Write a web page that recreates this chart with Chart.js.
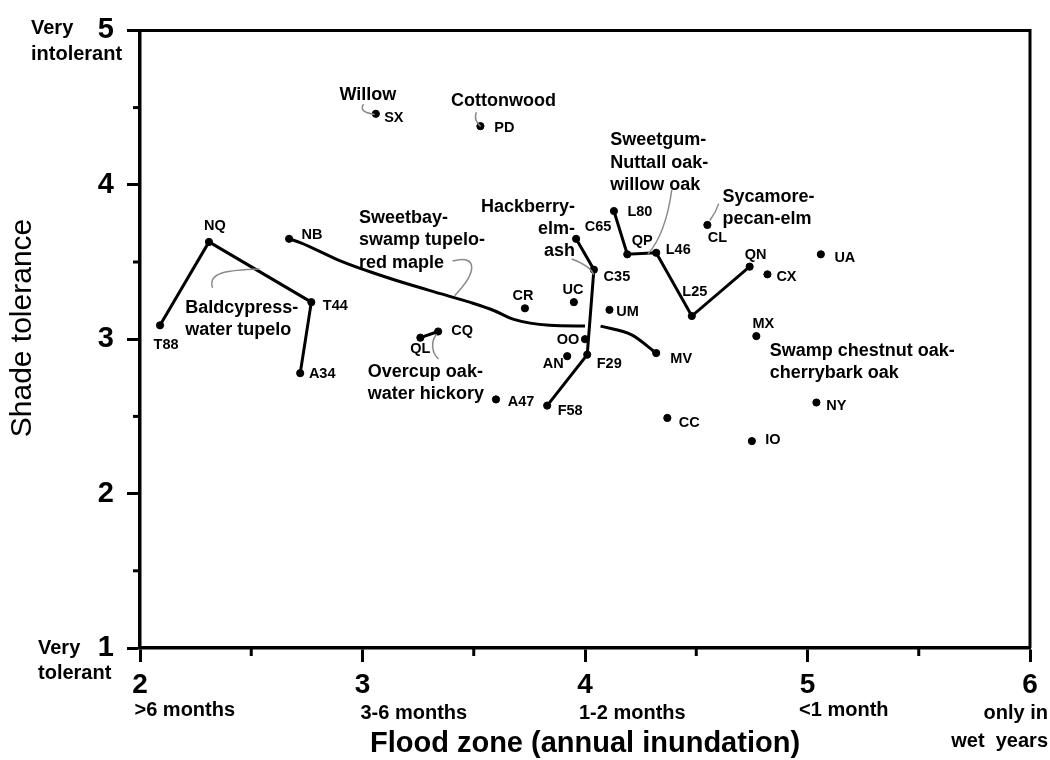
<!DOCTYPE html>
<html>
<head>
<meta charset="utf-8">
<style>
  html, body { margin: 0; padding: 0; background: #fff; }
  #wrap { width: 1050px; height: 760px; }
</style>
<script src="https://cdn.jsdelivr.net/npm/chart.js@4.4.1/dist/chart.umd.min.js"></script>
</head>
<body>
<div id="wrap"><canvas id="c" width="1050" height="760"></canvas></div>
<script>
// ---------------- DATA ----------------
const codes = ['SX','PD','NQ','NB','T88','T44','A34','QL','CQ','A47','CR','UC','UM','C65','C35','OO','F29','AN','F58','L80','QP','L46','L25','QN','CX','UA','CL','MX','MV','NY','CC','IO'];
const floodZone = [3.06,3.53,2.31,2.67,2.09,2.77,2.72,3.26,3.34,3.60,3.73,3.95,4.11,3.96,4.04,4.00,4.01,3.92,3.83,4.13,4.19,4.32,4.48,4.74,4.82,5.06,4.55,4.77,4.32,5.04,4.37,4.75];
const shadeTolerance = [4.46,4.38,3.63,3.65,3.09,3.24,2.78,3.01,3.05,2.61,3.20,3.24,3.19,3.65,3.45,3.00,2.90,2.89,2.57,3.83,3.55,3.56,3.15,3.47,3.42,3.55,3.74,3.02,2.91,2.59,2.49,2.34];

// connected community groups (by species code)
const baldcypressLine = ['T88','NQ','T44','A34'];
const overcupLine = ['QL','CQ'];
const hackberryLine = ['C65','C35','F29','F58'];
const sweetgumLine = ['L80','QP','L46','L25','QN'];
// sweetbay-swamp tupelo-red maple trend curve (gap where it crosses the hackberry line)
const sweetbayCurveX = [2.67,2.72,2.90,3.05,3.20,3.35,3.50,3.59,3.68,3.84,4.00,4.035,4.07,4.21,4.32];
const sweetbayCurveY = [3.65,3.626,3.508,3.429,3.359,3.295,3.231,3.186,3.128,3.09,3.085,null,3.085,3.028,2.91];

const xTicks = [2,3,4,5,6];
const xTickSubLabels = [['>6 months'],['3-6 months'],['1-2 months'],['<1 month'],['only in','wet  years']];
const yEndLabels = [['Very','intolerant'],['Very','tolerant']];

const groupNames = [
  ['Willow'], ['Cottonwood'], ['Sweetbay-','swamp tupelo-','red maple'], ['Baldcypress-','water tupelo'],
  ['Overcup oak-','water hickory'], ['Hackberry-','elm-','ash'], ['Sweetgum-','Nuttall oak-','willow oak'],
  ['Sycamore-','pecan-elm'], ['Swamp chestnut oak-','cherrybark oak']
];

// ---------------- LAYOUT / STYLE (annotation placement) ----------------
const FONT = '"Liberation Sans", Arial, Helvetica, sans-serif';
// code label offsets in px from its point (text centre)
const codeLabelOffset = {
  SX:[18,4], PD:[24,2], NQ:[6,-16], NB:[23,-4], T88:[6,20], T44:[24,4], A34:[22,1], QL:[0,11], CQ:[24,0],
  A47:[25,3], CR:[-2,-12], UC:[-1,-12], UM:[18,2], C65:[22,-12], C35:[23,7], OO:[-17,1], F29:[22,9],
  AN:[-14,8], F58:[23,5], L80:[26,1], QP:[15,-13], L46:[22,-3], L25:[3,-24], QN:[6,-12], CX:[19,3],
  UA:[24,4], CL:[10,13], MX:[7,-12], MV:[25,6], NY:[20,3], CC:[22,5], IO:[21,-1]
};
// group label anchors in data units: [x, y, align, lineHeight px]
const groupAnchor = [
  [3.024,4.581,'center',22], [3.634,4.545,'center',22], [2.984,3.787,'left',22.5], [2.203,3.205,'left',22],
  [3.024,2.787,'left',21.5], [3.955,3.857,'right',22], [4.113,4.288,'left',22.5],
  [4.618,3.921,'left',21.7], [4.830,2.925,'left',22.3]
];
// grey leader lines, cubic beziers in data units
const leaders = [
  [[3.005,4.522],[2.990,4.490],[2.999,4.470],[3.055,4.455]],
  [[3.512,4.470],[3.500,4.429],[3.513,4.404],[3.531,4.378]],
  [[3.405,3.506],[3.518,3.551],[3.518,3.436],[3.414,3.282]],
  [[2.537,3.455],[2.402,3.449],[2.303,3.436],[2.326,3.333]],
  [[3.333,3.032],[3.306,2.987],[3.310,2.910],[3.342,2.872]],
  [[3.940,3.519],[3.994,3.490],[4.030,3.455],[4.039,3.417]],
  [[4.390,3.968],[4.372,3.776],[4.340,3.647],[4.283,3.551]],
  [[4.601,3.878],[4.588,3.821],[4.574,3.795],[4.561,3.769]]
];
const subLabelOffset = [[-5.5,710,'left'],[-2,713,'left'],[-6,713,'left'],[-8.4,710,'left'],[18,713,'right']];

// ---------------- BUILD ----------------
const idx = c => codes.indexOf(c);
const pt = c => ({ x: floodZone[idx(c)], y: shadeTolerance[idx(c)] });
const lineSet = (list) => ({
  type: 'line', data: list.map(pt), borderColor: '#000', borderWidth: 3,
  pointRadius: 0, tension: 0, fill: false
});

const annotate = {
  id: 'annotate',
  afterDraw(chart) {
    const { ctx, scales: { x, y }, chartArea: a } = chart;
    ctx.save();
    // frame top & right
    ctx.strokeStyle = '#000'; ctx.lineWidth = 3;
    ctx.beginPath(); ctx.moveTo(a.left - 1.5, a.top); ctx.lineTo(a.right, a.top); ctx.lineTo(a.right, a.bottom); ctx.stroke();
    // minor ticks
    ctx.lineWidth = 3;
    for (let v = 2.5; v < 6; v += 1) {
      const px = x.getPixelForValue(v);
      ctx.beginPath(); ctx.moveTo(px, a.bottom); ctx.lineTo(px, a.bottom + 8); ctx.stroke();
    }
    for (let v = 1.5; v < 5; v += 1) {
      const py = y.getPixelForValue(v);
      ctx.beginPath(); ctx.moveTo(a.left, py); ctx.lineTo(a.left - 7, py); ctx.stroke();
    }
    // leaders
    ctx.strokeStyle = '#8a8a8a'; ctx.lineWidth = 1.5;
    leaders.forEach(L => {
      const P = L.map(p => [x.getPixelForValue(p[0]), y.getPixelForValue(p[1])]);
      ctx.beginPath(); ctx.moveTo(P[0][0], P[0][1]);
      ctx.bezierCurveTo(P[1][0], P[1][1], P[2][0], P[2][1], P[3][0], P[3][1]);
      ctx.stroke();
    });
    ctx.fillStyle = '#000'; ctx.textBaseline = 'middle';
    // code labels
    ctx.font = 'bold 14.5px ' + FONT; ctx.textAlign = 'center';
    codes.forEach((c, i) => {
      const o = codeLabelOffset[c];
      ctx.fillText(c, x.getPixelForValue(floodZone[i]) + o[0], y.getPixelForValue(shadeTolerance[i]) + o[1]);
    });
    // group labels
    ctx.font = 'bold 18px ' + FONT;
    groupNames.forEach((lines, i) => {
      const g = groupAnchor[i];
      ctx.textAlign = g[2];
      const gx = x.getPixelForValue(g[0]), gy = y.getPixelForValue(g[1]);
      lines.forEach((t, k) => ctx.fillText(t, gx, gy + k * g[3]));
    });
    // x tick sub labels
    ctx.font = 'bold 20px ' + FONT;
    xTicks.forEach((v, i) => {
      const o = subLabelOffset[i];
      ctx.textAlign = o[2];
      xTickSubLabels[i].forEach((t, k) => ctx.fillText(t, x.getPixelForValue(v) + o[0], o[1] + k * 28));
    });
    // y end labels
    ctx.textAlign = 'left';
    ctx.fillText(yEndLabels[0][0], 31, y.getPixelForValue(5) - 1.5);
    ctx.fillText(yEndLabels[0][1], 31, y.getPixelForValue(5) + 24.5);
    ctx.fillText(yEndLabels[1][0], 38, y.getPixelForValue(1) + 0.5);
    ctx.fillText(yEndLabels[1][1], 38, y.getPixelForValue(1) + 25.5);
    // axis titles
    ctx.textAlign = 'center';
    ctx.font = 'bold 29px ' + FONT;
    ctx.fillText('Flood zone (annual inundation)', (a.left + a.right) / 2, 744);
    ctx.save();
    ctx.translate(23, 328); ctx.rotate(-Math.PI / 2);
    ctx.font = '30px ' + FONT;
    ctx.fillText('Shade tolerance', 0, 0);
    ctx.restore();
    ctx.restore();
  }
};

Chart.defaults.color = '#000';
new Chart(document.getElementById('c'), {
  type: 'scatter',
  data: {
    datasets: [
      {
        type: 'scatter',
        data: codes.map((c, i) => ({ x: floodZone[i], y: shadeTolerance[i] })),
        backgroundColor: '#000', borderColor: '#000', pointRadius: 3.6, pointHoverRadius: 3.6
      },
      lineSet(baldcypressLine),
      lineSet(overcupLine),
      lineSet(hackberryLine),
      lineSet(sweetgumLine),
      {
        type: 'line',
        data: sweetbayCurveX.map((v, i) => ({ x: v, y: sweetbayCurveY[i] })),
        borderColor: '#000', borderWidth: 3, pointRadius: 0, fill: false,
        cubicInterpolationMode: 'monotone', spanGaps: false
      }
    ]
  },
  options: {
    responsive: false, animation: false, devicePixelRatio: 1,
    layout: { padding: { top: 24, right: 20, left: 0, bottom: 0 } },
    plugins: { legend: { display: false }, tooltip: { enabled: false } },
    events: [],
    scales: {
      x: {
        type: 'linear', position: 'bottom', min: 2, max: 6,
        afterFit: s => { s.height = 112; },
        ticks: { stepSize: 1, font: { family: FONT, size: 28, weight: 'bold' }, color: '#000', padding: 6, maxRotation: 0 },
        grid: { drawOnChartArea: false, drawTicks: true, tickLength: 14, tickWidth: 3, tickColor: '#000' },
        border: { display: true, color: '#000', width: 3.5 }
      },
      y: {
        type: 'linear', position: 'left', min: 1, max: 5,
        afterFit: s => { s.width = 140; },
        ticks: { stepSize: 1, font: { family: FONT, size: 29, weight: 'bold' }, color: '#000', padding: 13 },
        grid: { drawOnChartArea: false, drawTicks: true, tickLength: 13, tickWidth: 3, tickColor: '#000' },
        border: { display: true, color: '#000', width: 3.5 }
      }
    }
  },
  plugins: [annotate]
});
</script>
</body>
</html>
